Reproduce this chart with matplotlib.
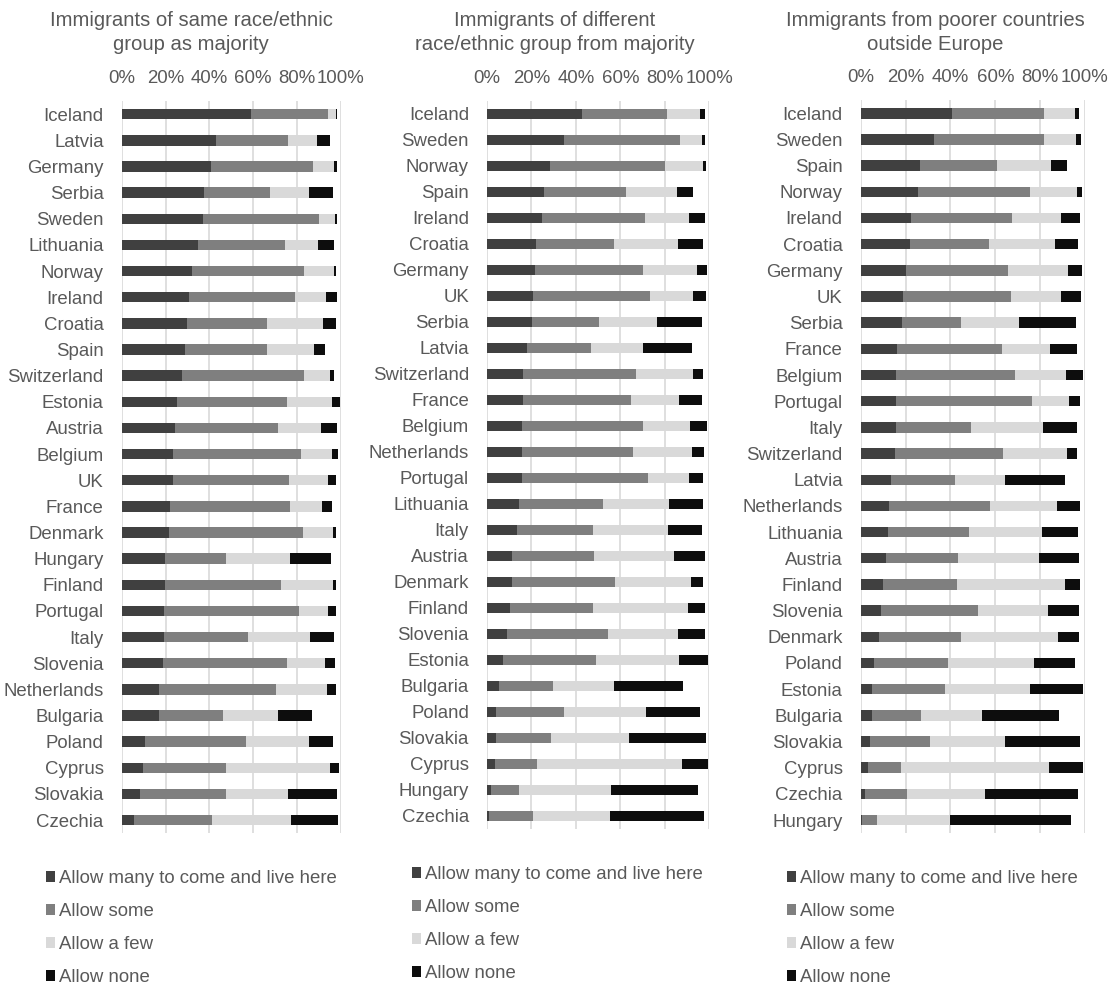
import numpy as np
import matplotlib
matplotlib.use('Agg')
import matplotlib.pyplot as plt
from matplotlib.patches import Patch

plt.rcParams['font.family'] = ['Liberation Sans', 'DejaVu Sans']

# answer categories
answers = ['Allow many to come and live here', 'Allow some', 'Allow a few', 'Allow none']
colors = ['#404040', '#7f7f7f', '#d9d9d9', '#0d0d0d']

titles = ['Immigrants of same race/ethnic\ngroup as majority',
          'Immigrants of different\nrace/ethnic group from majority',
          'Immigrants from poorer countries\noutside Europe']

# panel 1: same race/ethnic group as majority (%)
countries1 = ['Iceland', 'Latvia', 'Germany', 'Serbia', 'Sweden', 'Lithuania', 'Norway',
              'Ireland', 'Croatia', 'Spain', 'Switzerland', 'Estonia', 'Austria', 'Belgium',
              'UK', 'France', 'Denmark', 'Hungary', 'Finland', 'Portugal', 'Italy',
              'Slovenia', 'Netherlands', 'Bulgaria', 'Poland', 'Cyprus', 'Slovakia', 'Czechia']
many1 = [59.1, 43.1, 40.8, 37.6, 37.1, 35.0, 32.3, 30.7, 30.0, 28.9, 27.7, 25.4, 24.5, 23.6,
         23.3, 21.9, 21.6, 19.8, 19.8, 19.5, 19.2, 18.7, 16.9, 16.9, 10.7, 9.7, 8.5, 5.8]
some1 = [35.3, 32.9, 46.7, 30.1, 53.0, 39.6, 51.0, 48.3, 36.5, 37.3, 55.6, 50.1, 46.9, 58.1,
         53.3, 54.8, 61.2, 27.8, 52.8, 61.5, 38.5, 56.8, 53.4, 29.4, 46.1, 37.9, 39.1, 35.6]
few1 = [3.5, 13.0, 9.6, 17.7, 7.3, 15.2, 13.7, 14.3, 25.3, 21.8, 11.8, 20.5, 19.6, 14.5,
        17.5, 14.6, 13.5, 29.3, 24.0, 13.1, 28.3, 17.5, 23.5, 25.1, 28.6, 47.4, 28.4, 35.9]
none1 = [0.4, 6.0, 1.4, 11.2, 0.8, 7.0, 0.7, 5.0, 5.9, 4.8, 2.0, 3.7, 7.5, 2.7,
         3.9, 4.9, 1.4, 18.8, 1.3, 3.8, 11.0, 4.4, 4.1, 15.7, 11.2, 4.2, 22.5, 21.6]

# panel 2: different race/ethnic group from majority (%)
countries2 = ['Iceland', 'Sweden', 'Norway', 'Spain', 'Ireland', 'Croatia', 'Germany', 'UK',
              'Serbia', 'Latvia', 'Switzerland', 'France', 'Belgium', 'Netherlands',
              'Portugal', 'Lithuania', 'Italy', 'Austria', 'Denmark', 'Finland', 'Slovenia',
              'Estonia', 'Bulgaria', 'Poland', 'Slovakia', 'Cyprus', 'Hungary', 'Czechia']
many2 = [42.9, 34.8, 28.5, 25.8, 24.9, 21.9, 21.6, 20.7, 20.2, 17.8, 16.2, 16.2, 15.7, 15.7,
         15.6, 14.4, 13.6, 11.4, 11.2, 10.5, 9.0, 7.3, 5.5, 4.2, 4.2, 3.6, 1.8, 0.9]
some2 = [38.2, 51.9, 51.6, 36.7, 46.2, 35.1, 48.4, 52.6, 30.2, 28.8, 51.0, 48.7, 54.3, 50.1,
         56.8, 37.8, 34.1, 36.7, 46.2, 37.0, 45.4, 41.7, 24.3, 30.3, 24.4, 18.7, 12.6, 19.9]
few2 = [14.7, 10.2, 16.9, 23.1, 19.9, 29.1, 24.5, 19.5, 26.2, 23.7, 25.3, 21.3, 21.2, 26.6,
        18.5, 29.7, 33.6, 36.0, 34.4, 43.1, 31.5, 37.4, 27.5, 37.2, 35.1, 65.3, 41.2, 34.4]
none2 = [2.1, 1.3, 1.4, 7.1, 7.2, 11.2, 4.3, 5.7, 20.0, 21.9, 4.5, 10.4, 7.9, 5.1,
         6.4, 15.1, 15.6, 13.8, 5.2, 7.5, 12.0, 13.2, 30.7, 24.3, 34.7, 11.8, 39.2, 42.6]

# panel 3: poorer countries outside Europe (%)
countries3 = ['Iceland', 'Sweden', 'Spain', 'Norway', 'Ireland', 'Croatia', 'Germany', 'UK',
              'Serbia', 'France', 'Belgium', 'Portugal', 'Italy', 'Switzerland', 'Latvia',
              'Netherlands', 'Lithuania', 'Austria', 'Finland', 'Slovenia', 'Denmark',
              'Poland', 'Estonia', 'Bulgaria', 'Slovakia', 'Cyprus', 'Czechia', 'Hungary']
many3 = [40.7, 32.8, 26.4, 25.6, 22.6, 22.0, 20.2, 19.0, 18.4, 16.2, 15.9, 15.8, 15.9, 15.5,
         13.7, 12.6, 12.2, 11.4, 9.8, 8.9, 8.3, 5.9, 5.1, 5.1, 4.2, 3.3, 1.9, 0.6]
some3 = [41.0, 48.8, 34.4, 49.9, 44.9, 35.2, 45.6, 48.0, 26.3, 46.7, 52.9, 60.7, 33.3, 48.1,
         28.4, 45.1, 36.1, 32.0, 33.3, 43.6, 36.4, 33.0, 32.5, 21.9, 26.9, 14.8, 18.8, 6.7]
few3 = [14.0, 14.5, 23.9, 20.9, 22.0, 29.3, 26.5, 22.5, 26.0, 21.5, 22.6, 16.4, 31.9, 28.2,
        22.1, 29.8, 32.5, 36.2, 48.0, 31.2, 43.4, 38.2, 38.0, 27.1, 33.2, 65.9, 34.9, 32.4]
none3 = [1.8, 2.0, 7.3, 2.1, 8.3, 10.2, 6.2, 8.9, 25.3, 11.9, 7.9, 4.7, 15.5, 4.8,
         26.9, 10.4, 16.2, 17.7, 6.7, 13.8, 9.2, 18.4, 23.7, 34.5, 33.5, 15.3, 41.1, 53.9]

panels = [
    (countries1, [many1, some1, few1, none1]),
    (countries2, [many2, some2, few2, none2]),
    (countries3, [many3, some3, few3, none3]),
]

W, H = 1119, 986
text_col = '#595959'
fs = 13.4
fig = plt.figure(figsize=(W / 100, H / 100), dpi=100)

# axes boxes in pixels: left, top, right, bottom
boxes = [(121.7, 101.2, 340.7, 833.1),
         (487.0, 101.0, 709.3, 828.7),
         (860.7, 100.2, 1085.0, 833.1)]
title_x = [191, 555, 935]
legend_pos = [(46, 870), (412, 866), (787, 870)]

for i, (countries, series) in enumerate(panels):
    l, t, r, b = boxes[i]
    ax = fig.add_axes([l / W, 1 - b / H, (r - l) / W, (b - t) / H])
    y = np.arange(len(countries))
    left = np.zeros(len(countries))
    for vals, col, lab in zip(series, colors, answers):
        v = np.array(vals) / 100
        ax.barh(y, v, left=left, height=0.4, color=col, label=lab, zorder=3)
        left += v
    ax.set_xlim(0, 1)
    ax.set_ylim(len(countries) - 0.5, -0.5)
    ax.set_yticks(y)
    ax.set_yticklabels(countries)
    ax.set_xticks(np.linspace(0, 1, 6))
    ax.set_xticklabels(['0%', '20%', '40%', '60%', '80%', '100%'])
    ax.xaxis.tick_top()
    ax.tick_params(axis='x', length=0, pad=10, labelsize=fs, labelcolor=text_col)
    ax.tick_params(axis='y', length=0, pad=13, labelsize=fs, labelcolor=text_col)
    ax.grid(axis='x', color='#d9d9d9', linewidth=1.2, zorder=0)
    for s in ax.spines.values():
        s.set_visible(False)

    fig.text(title_x[i] / W, 1 - 11 / H, titles[i], ha='center', va='top',
             fontsize=14.6, color=text_col, linespacing=1.35)

    handles = [Patch(facecolor=c, edgecolor='none') for c in colors]
    lx, ly = legend_pos[i]
    leg = ax.legend(handles, answers, loc='upper left',
                    bbox_to_anchor=(lx / W, 1 - ly / H), bbox_transform=fig.transFigure,
                    frameon=False, fontsize=fs, borderpad=0, borderaxespad=0,
                    handlelength=0.5, handleheight=0.5, handletextpad=0.2,
                    labelspacing=0.86)
    for txt in leg.get_texts():
        txt.set_color(text_col)

fig.savefig('out.png', dpi=100)
